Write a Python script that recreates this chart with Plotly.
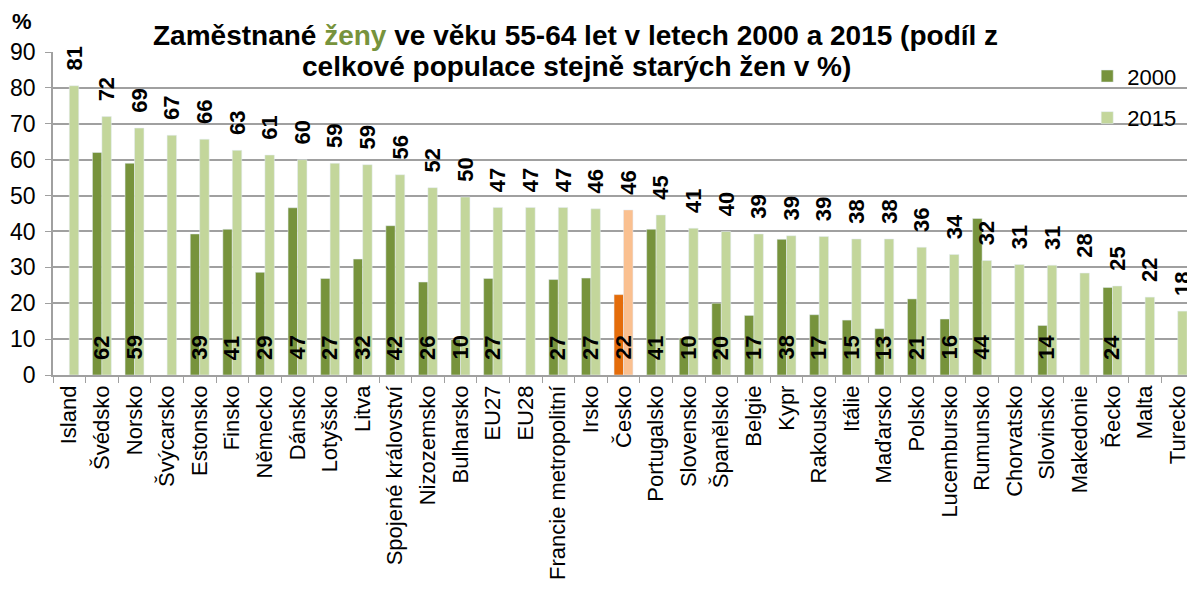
import plotly.graph_objects as go

countries = ["Island", "Švédsko", "Norsko", "Švýcarsko", "Estonsko", "Finsko", "Německo",
             "Dánsko", "Lotyšsko", "Litva", "Spojené království", "Nizozemsko", "Bulharsko",
             "EU27", "EU28", "Francie metropolitní", "Irsko", "Česko", "Portugalsko",
             "Slovensko", "Španělsko", "Belgie", "Kypr", "Rakousko", "Itálie", "Maďarsko",
             "Polsko", "Lucembursko", "Rumunsko", "Chorvatsko", "Slovinsko", "Makedonie",
             "Řecko", "Malta", "Turecko"]

y2000 = [None, 62.0, 59.0, None, 39.3, 40.6, 28.6, 46.6, 26.9, 32.3, 41.6, 25.9, 9.9,
         26.9, None, 26.6, 27.0, 22.4, 40.6, 10.3, 20.0, 16.6, 37.8, 16.8, 15.3, 12.9,
         21.2, 15.6, 43.6, None, 13.8, None, 24.4, None, None]

y2015 = [80.6, 72.0, 68.8, 66.8, 65.7, 62.6, 61.3, 60.0, 59.0, 58.6, 55.8, 52.2, 49.6,
         46.7, 46.7, 46.7, 46.3, 46.0, 44.6, 40.9, 40.0, 39.3, 38.8, 38.6, 37.9, 37.9,
         35.6, 33.6, 31.9, 30.8, 30.6, 28.4, 24.8, 21.7, 17.8]

highlight = "Česko"

c2000 = ["#E46C0A" if c == highlight else "#77933C" for c in countries]
c2015 = ["#FAC090" if c == highlight else "#C3D69B" for c in countries]

pad = "\u00a0\u00a0"
t2015 = [pad + f"{v:.0f}" for v in y2015]

lab_font = dict(family="Liberation Sans", size=22, color="black", weight="bold")

fig = go.Figure()
fig.add_trace(go.Bar(x=countries, y=y2000, name="2000", marker_color=c2000,
                     legendgroup="a"))
fig.add_trace(go.Bar(x=countries, y=y2015, name="2015", marker_color=c2015,
                     text=t2015, textposition="outside", textangle=-90, cliponaxis=False,
                     constraintext="none", legendgroup="b", outsidetextfont=lab_font))

# 2000 value labels sitting at the bar base
for c, v in zip(countries, y2000):
    if v is None:
        continue
    fig.add_annotation(x=c, y=0, text=f"{v:.0f}", textangle=-90, showarrow=False,
                       xanchor="center", yanchor="bottom", xshift=-1, yshift=13,
                       font=lab_font)

fig.update_layout(
    width=1187, height=596,
    margin=dict(l=53, r=0, t=52, b=221),
    plot_bgcolor="white", paper_bgcolor="white",
    barmode="group", bargap=0.42, bargroupgap=0,
    font=dict(family="Liberation Sans", color="black"),
    legend=dict(x=0.912, y=0.99, xanchor="left", yanchor="top", font=dict(size=22),
                bgcolor="rgba(0,0,0,0)", tracegroupgap=10, itemwidth=30),
    showlegend=True,
)

title_font = dict(size=28, family="Liberation Sans", weight="bold", color="black")
fig.add_annotation(text="Zaměstnané <span style='color:#77933C'>ženy</span> ve věku 55-64 let v letech 2000 a 2015 (podíl z",
                   x=(575 - 53) / 1134, y=1.0526, xref="paper", yref="paper",
                   xanchor="center", yanchor="middle", showarrow=False, font=title_font)
fig.add_annotation(text="celkové populace stejně starých žen v %)",
                   x=(576 - 53) / 1134, y=0.9536, xref="paper", yref="paper",
                   xanchor="center", yanchor="middle", showarrow=False, font=title_font)

fig.update_xaxes(range=[-0.5, 34.285], tickangle=-90, tickfont=dict(size=22),
                 showline=True, linecolor="#A0A0A0", linewidth=1.5, automargin=False,
                 ticks="outside", tickson="boundaries", ticklen=6, tickcolor="#A0A0A0")
fig.update_yaxes(range=[0, 90], dtick=10, tickfont=dict(size=23), automargin=False,
                 showgrid=True, gridcolor="#A0A0A0", gridwidth=1.5, ticklabelstandoff=5,
                 showline=True, linecolor="#A0A0A0", linewidth=1.5,
                 ticks="outside", ticklen=6, tickcolor="#A0A0A0", zeroline=False)

fig.add_annotation(text="<b>%</b>", x=(22 - 53) / 1134, y=(375 - 21) / 323,
                   xref="paper", yref="paper", xanchor="center", yanchor="middle",
                   showarrow=False, font=dict(size=22, family="Liberation Sans"))

fig.write_html("out.html", config={"displayModeBar": False},
               post_script="document.body.style.margin='0px';")
